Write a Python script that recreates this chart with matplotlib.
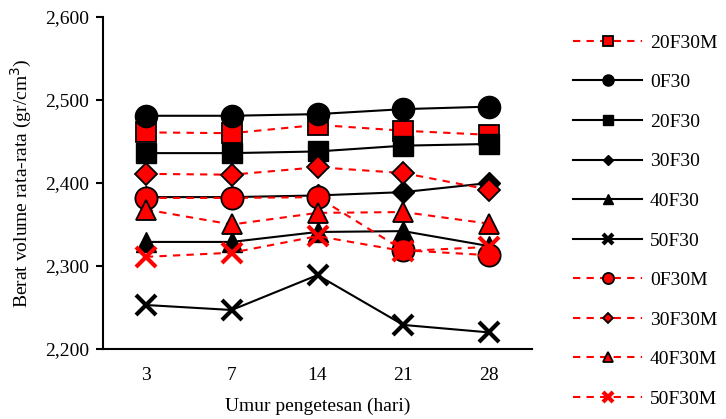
import matplotlib
matplotlib.use("Agg")
import matplotlib.pyplot as plt
from matplotlib.ticker import FuncFormatter

plt.rcParams['font.family'] = ['Liberation Serif', 'DejaVu Serif']

days = ["3", "7", "14", "21", "28"]

s_20F30M = [2461, 2460, 2470, 2463, 2458]
s_0F30 = [2481, 2481, 2483, 2489, 2492]
s_20F30 = [2436, 2436, 2438, 2445, 2447]
s_30F30 = [2383, 2383, 2385, 2389, 2400]
s_40F30 = [2329, 2329, 2341, 2342, 2324]
s_50F30 = [2253, 2247, 2289, 2229, 2220]
s_0F30M = [2382, 2382, 2383, 2319, 2313]
s_30F30M = [2411, 2410, 2419, 2412, 2392]
s_40F30M = [2368, 2350, 2364, 2365, 2351]
s_50F30M = [2311, 2316, 2336, 2318, 2323]

fig = plt.figure(figsize=(7.26, 4.19), dpi=100)
ax = fig.add_axes([103/726, (419-349)/419, (532-103)/726, (349-17)/419])

x = list(range(len(days)))
dash = (0, (3.5, 3.0))

def black(vals, marker, ms, label, mew=1.0):
    ax.plot(x, vals, color='black', lw=1.5, marker=marker, ms=ms,
            mfc='black', mec='black', mew=mew, label=label)

def red(vals, marker, ms, label, mew=1.3, mec='black'):
    ax.plot(x, vals, color='red', lw=1.5, ls=dash, marker=marker, ms=ms,
            mfc='red', mec=mec, mew=mew, label=label)

red(s_20F30M, 's', 15, '20F30M')
black(s_0F30, 'o', 16, '0F30')
black(s_20F30, 's', 15, '20F30')
black(s_30F30, 'D', 11, '30F30')
black(s_40F30, '^', 15, '40F30')
black(s_50F30, 'x', 15, '50F30', mew=3)
red(s_0F30M, 'o', 16, '0F30M')
red(s_30F30M, 'D', 11, '30F30M')
red(s_40F30M, '^', 15, '40F30M')
red(s_50F30M, 'x', 15, '50F30M', mew=3, mec='red')

ax.set_xlim(-0.5, len(days) - 0.5)
ax.set_ylim(2200, 2600)
ax.set_yticks([2200, 2300, 2400, 2500, 2600])
ax.yaxis.set_major_formatter(FuncFormatter(lambda v, p: f"{int(v):,}"))
ax.set_xticks(x)
ax.set_xticklabels(days)
ax.tick_params(axis='x', length=0, labelsize=14, pad=13)
ax.tick_params(axis='y', direction='out', length=5, width=1.5, labelsize=14, pad=5)
for s in ['top', 'right']:
    ax.spines[s].set_visible(False)
for s in ['left', 'bottom']:
    ax.spines[s].set_linewidth(1.5)

ax.set_xlabel("Umur pengetesan (hari)", fontsize=14, labelpad=10)
ax.set_ylabel("Berat volume rata-rata (gr/cm$^3$)", fontsize=14, labelpad=8)

leg = ax.legend(loc='upper left', bbox_to_anchor=(573/726, 1 - 34/419),
                bbox_transform=fig.transFigure, borderaxespad=0, borderpad=0,
                frameon=False, fontsize=14, markerscale=0.5,
                handlelength=3.55, labelspacing=1.13, handletextpad=0.4)
fig.savefig("out.png", dpi=100)
